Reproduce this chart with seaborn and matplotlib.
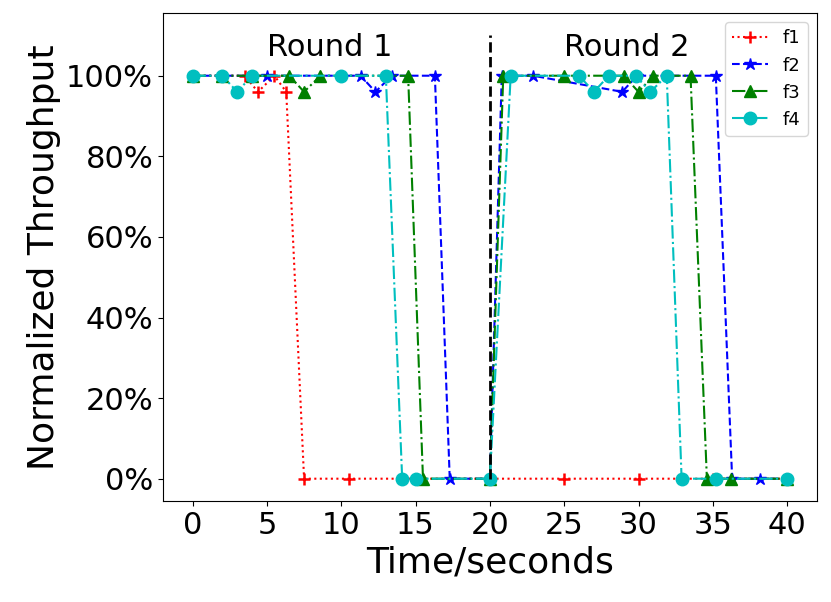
import matplotlib
matplotlib.use('Agg')
import matplotlib.pyplot as plt
import seaborn as sns
from matplotlib.ticker import PercentFormatter

# throughput samples (time in seconds, fraction of max)
f1_t = [0, 3.5, 4.4, 5.5, 6.3, 7.5, 10.5, 15, 20, 25, 30, 35, 40]
f1_v = [1, 1, 0.96, 1, 0.96, 0, 0, 0, 0, 0, 0, 0, 0]

f2_t = [0, 5, 11.3, 12.3, 13.4, 16.3, 17.3, 20, 20.8, 22.9, 28.9, 29.9, 35.2, 36.3, 38.2, 40]
f2_v = [1, 1, 1, 0.96, 1, 1, 0, 0, 1, 1, 0.96, 1, 1, 0, 0, 0]

f3_t = [0, 2, 4, 6.5, 7.5, 8.6, 14.5, 15.5, 20, 20.9, 25, 29, 30, 31, 33.5, 34.6, 36.2, 40]
f3_v = [1, 1, 1, 1, 0.96, 1, 1, 0, 0, 1, 1, 1, 0.96, 1, 1, 0, 0, 0]

f4_t = [0, 2, 3, 4, 10, 13, 14.1, 15, 20, 21.4, 26, 27, 28, 29.8, 30.8, 31.9, 32.9, 35.2, 40]
f4_v = [1, 1, 0.96, 1, 1, 1, 0, 0, 0, 1, 1, 0.96, 1, 1, 0.96, 1, 0, 0, 0]

series = [
    ('f1', f1_t, f1_v, 'r', ':', '+'),
    ('f2', f2_t, f2_v, 'b', '--', '*'),
    ('f3', f3_t, f3_v, 'g', '-.', '^'),
    ('f4', f4_t, f4_v, 'c', '-.', 'o'),
]

fig, ax = plt.subplots(figsize=(8.31, 6.02), dpi=100)
fig.subplots_adjust(left=0.196, right=0.983, bottom=0.168, top=0.978)

for name, t, v, col, ls, mk in series:
    sns.lineplot(x=t, y=v, ax=ax, color=col, linestyle=ls, marker=mk,
                 markersize=9, markeredgecolor=col,
                 markeredgewidth=1.8 if mk == '+' else 1.0, label=name,
                 sort=False, estimator=None)

ax.vlines(20, 0, 1.1, colors='k', linestyles='--', linewidth=2)
ax.text(5, 1.05, 'Round 1', fontsize=22)
ax.text(25, 1.05, 'Round 2', fontsize=22)

ax.set_xlim(-2, 42)
ax.set_ylim(-0.055, 1.155)
ax.set_xticks(range(0, 41, 5))
ax.set_yticks([0, 0.2, 0.4, 0.6, 0.8, 1.0])
ax.yaxis.set_major_formatter(PercentFormatter(1.0, decimals=0))
ax.tick_params(labelsize=22)
ax.set_xlabel('Time/seconds', fontsize=26)
ax.set_ylabel('Normalized Throughput', fontsize=26)
ax.legend(loc='upper right', fontsize=13)

plt.savefig('out.png', dpi=100)
